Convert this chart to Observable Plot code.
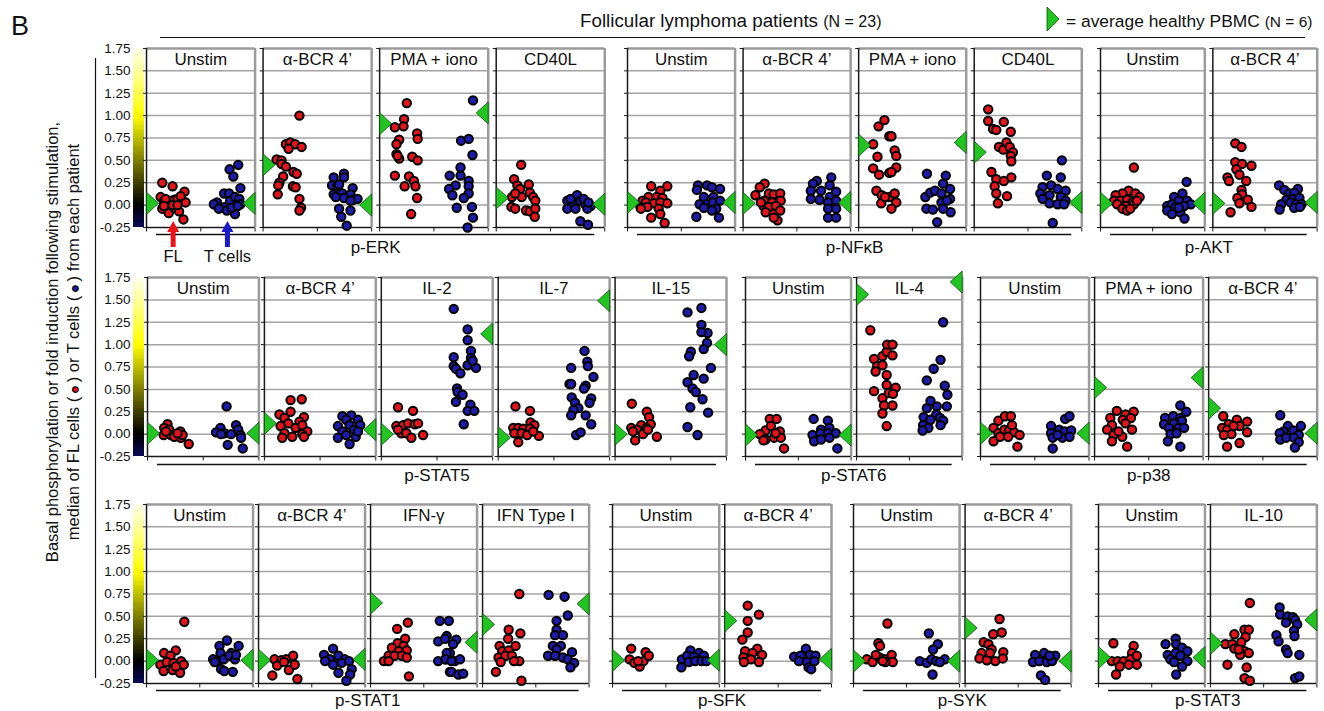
<!DOCTYPE html>
<html><head><meta charset="utf-8">
<script src="https://cdn.jsdelivr.net/npm/d3@7"></script>
<script src="https://cdn.jsdelivr.net/npm/@observablehq/plot@0.6"></script>
<style>
body{margin:0;background:#fff;}
#fig{position:relative;width:1324px;height:711px;overflow:hidden;background:#fff;}
</style></head>
<body><div id="fig"></div>
<script>
// ---------------- DATA ----------------
// x of each point: 0..1 = FL half of a panel, 1..2 = T-cell half; y = value
const row1Labels = ["Unstim","α-BCR 4’","PMA + iono","CD40L","Unstim","α-BCR 4’","PMA + iono","CD40L","Unstim","α-BCR 4’"];
const row1Groups = [["p-ERK",4],["p-NFκB",4],["p-AKT",2]];
const row1HealthyFL = [0.02,0.45,0.91,0.08,0.03,0.02,0.67,0.59,0.02,0.02];
const row1HealthyT  = [0.02,0.00,1.03,0.01,0.03,0.03,0.70,0.03,0.02,0.03];
const row1FL = [
 [[0.29,0.25],[0.48,0.21],[0.26,0.09],[0.32,0.04],[0.41,0.05],[0.51,0.06],[0.57,0.07],[0.66,0.05],[0.72,0.03],[0.70,0.15],[0.63,0.10],[0.29,-0.04],[0.41,-0.09],[0.51,-0.03],[0.60,-0.07],[0.68,-0.16],[0.38,0.01],[0.48,0.00],[0.57,0.00],[0.35,0.07],[0.32,-0.01]],
 [[0.67,1.00],[0.42,0.68],[0.50,0.70],[0.59,0.68],[0.71,0.65],[0.47,0.63],[0.25,0.51],[0.34,0.50],[0.34,0.46],[0.42,0.43],[0.56,0.37],[0.62,0.35],[0.37,0.32],[0.30,0.25],[0.28,0.22],[0.27,0.12],[0.55,0.21],[0.60,0.20],[0.67,0.07],[0.70,-0.03],[0.67,-0.06]],
 [[0.50,1.14],[0.45,0.96],[0.28,0.87],[0.44,0.88],[0.36,0.73],[0.31,0.68],[0.69,0.80],[0.70,0.74],[0.31,0.57],[0.36,0.52],[0.60,0.54],[0.70,0.50],[0.28,0.33],[0.54,0.32],[0.63,0.27],[0.46,0.21],[0.66,0.21],[0.69,0.08],[0.58,-0.10],[0.33,0.55]],
 [[0.46,0.45],[0.33,0.29],[0.39,0.22],[0.44,0.18],[0.60,0.23],[0.62,0.14],[0.29,0.09],[0.47,0.09],[0.68,0.09],[0.72,0.05],[0.28,-0.02],[0.35,-0.04],[0.55,-0.06],[0.62,-0.07],[0.72,-0.04],[0.71,-0.13],[0.35,0.13]],
 [[0.44,0.21],[0.74,0.21],[0.61,0.16],[0.39,0.09],[0.54,0.09],[0.65,0.08],[0.28,0.05],[0.34,0.03],[0.49,0.02],[0.61,0.03],[0.74,0.02],[0.24,-0.02],[0.37,-0.02],[0.58,-0.04],[0.44,-0.14],[0.61,-0.10],[0.69,-0.20],[0.25,-0.04]],
 [[0.40,0.24],[0.31,0.20],[0.23,0.11],[0.48,0.13],[0.57,0.12],[0.69,0.13],[0.39,0.05],[0.54,0.03],[0.70,0.05],[0.38,-0.01],[0.48,-0.02],[0.61,-0.01],[0.42,-0.08],[0.57,-0.10],[0.69,-0.06],[0.64,-0.17],[0.57,-0.14],[0.33,0.03]],
 [[0.48,0.95],[0.37,0.88],[0.27,0.68],[0.57,0.77],[0.35,0.54],[0.27,0.41],[0.38,0.34],[0.57,0.36],[0.33,0.16],[0.43,0.11],[0.42,0.02],[0.57,0.09],[0.61,0.77],[0.67,0.61],[0.70,0.55],[0.70,0.42],[0.61,0.37],[0.67,0.13],[0.70,0.03],[0.61,-0.04],[0.49,0.09]],
 [[0.26,1.07],[0.26,0.94],[0.35,0.85],[0.41,0.84],[0.55,0.93],[0.68,0.82],[0.60,0.70],[0.46,0.65],[0.54,0.62],[0.66,0.65],[0.72,0.59],[0.68,0.55],[0.69,0.49],[0.32,0.37],[0.41,0.29],[0.55,0.27],[0.69,0.31],[0.38,0.21],[0.41,0.13],[0.61,0.10],[0.44,0.02]],
 [[0.64,0.42],[0.54,0.16],[0.42,0.13],[0.29,0.11],[0.67,0.13],[0.75,0.09],[0.26,0.05],[0.38,0.05],[0.51,0.06],[0.61,0.03],[0.32,0.01],[0.48,-0.01],[0.64,0.01],[0.42,-0.04],[0.51,-0.06],[0.57,-0.04],[0.70,0.05]],
 [[0.43,0.69],[0.55,0.65],[0.43,0.48],[0.56,0.46],[0.74,0.44],[0.45,0.40],[0.51,0.34],[0.28,0.31],[0.31,0.27],[0.64,0.27],[0.55,0.17],[0.56,0.12],[0.47,0.08],[0.67,0.06],[0.51,0.02],[0.74,-0.02],[0.34,-0.08]]
];
const row1T = [
 [[1.53,0.40],[1.69,0.45],[1.60,0.32],[1.43,0.13],[1.52,0.13],[1.30,0.03],[1.36,-0.03],[1.45,-0.02],[1.54,0.05],[1.63,0.09],[1.73,0.19],[1.71,0.07],[1.63,-0.10],[1.73,0.01],[1.24,0.01],[1.33,-0.04],[1.48,-0.06],[1.57,-0.03],[1.68,-0.01]],
 [[1.30,0.31],[1.49,0.35],[1.49,0.31],[1.27,0.22],[1.37,0.21],[1.40,0.23],[1.65,0.19],[1.30,0.12],[1.46,0.13],[1.61,0.12],[1.34,0.09],[1.49,0.08],[1.66,0.06],[1.74,0.07],[1.61,0.05],[1.40,-0.04],[1.61,-0.06],[1.44,-0.13],[1.54,-0.23]],
 [[1.72,1.17],[1.50,0.72],[1.64,0.74],[1.71,0.56],[1.29,0.33],[1.49,0.42],[1.49,0.33],[1.40,0.22],[1.28,0.18],[1.34,0.11],[1.64,0.27],[1.64,0.21],[1.64,0.13],[1.55,0.08],[1.42,-0.03],[1.70,-0.02],[1.72,-0.14],[1.62,-0.25]],
 [[1.49,0.11],[1.31,0.05],[1.40,0.03],[1.55,0.05],[1.64,0.01],[1.74,-0.01],[1.31,-0.04],[1.46,-0.04],[1.68,-0.04],[1.55,-0.18],[1.69,-0.22],[1.37,0.07],[1.61,0.07],[1.70,0.03]],
 [[1.31,0.22],[1.48,0.22],[1.57,0.20],[1.72,0.18],[1.29,0.17],[1.42,0.09],[1.60,0.09],[1.34,0.01],[1.48,0.01],[1.59,0.03],[1.72,0.05],[1.42,-0.03],[1.65,-0.04],[1.28,-0.13],[1.70,-0.14],[1.57,-0.06]],
 [[1.37,0.27],[1.64,0.31],[1.30,0.24],[1.45,0.16],[1.61,0.22],[1.26,0.16],[1.73,0.15],[1.26,0.07],[1.42,0.06],[1.61,0.09],[1.58,0.03],[1.73,0.05],[1.58,-0.04],[1.73,-0.04],[1.58,-0.14],[1.73,-0.14]],
 [[1.27,0.35],[1.62,0.33],[1.24,0.09],[1.33,0.14],[1.42,0.16],[1.57,0.24],[1.70,0.18],[1.54,0.13],[1.70,0.07],[1.26,-0.04],[1.38,-0.05],[1.54,0.03],[1.57,-0.04],[1.71,-0.08],[1.46,-0.19],[1.64,0.05]],
 [[1.63,0.50],[1.35,0.33],[1.61,0.31],[1.27,0.20],[1.43,0.22],[1.55,0.18],[1.70,0.16],[1.23,0.13],[1.40,0.11],[1.61,0.09],[1.27,0.07],[1.70,0.05],[1.40,0.02],[1.55,0.01],[1.67,0.01],[1.46,-0.20]],
 [[1.65,0.26],[1.57,0.13],[1.41,0.09],[1.50,0.05],[1.66,0.05],[1.73,0.01],[1.28,-0.01],[1.37,0.01],[1.44,-0.02],[1.60,-0.01],[1.28,-0.06],[1.37,-0.10],[1.53,-0.08],[1.61,-0.15],[1.50,-0.03]],
 [[1.27,0.22],[1.37,0.17],[1.63,0.18],[1.47,0.13],[1.56,0.14],[1.41,0.06],[1.53,0.07],[1.66,0.08],[1.31,0.01],[1.49,0.03],[1.59,0.01],[1.70,0.01],[1.28,-0.05],[1.56,-0.03],[1.67,-0.02]]
];

const row2Labels = ["Unstim","α-BCR 4’","IL-2","IL-7","IL-15","Unstim","IL-4","Unstim","PMA + iono","α-BCR 4’"];
const row2Groups = [["p-STAT5",5],["p-STAT6",2],["p-p38",3]];
const row2HealthyFL = [0.01,0.12,0.00,-0.04,0.00,-0.01,1.56,0.01,0.52,0.29];
const row2HealthyT  = [0.01,0.05,1.12,1.49,1.00,-0.01,1.70,0.01,0.63,0.01];
const row2FL = [
 [[0.36,0.11],[0.30,0.07],[0.39,0.05],[0.29,-0.01],[0.42,-0.01],[0.51,-0.01],[0.59,0.03],[0.60,-0.04],[0.48,-0.03],[0.74,-0.11],[0.63,-0.01],[0.33,0.03],[0.54,0.01]],
 [[0.47,0.38],[0.67,0.39],[0.27,0.22],[0.47,0.25],[0.36,0.18],[0.71,0.19],[0.63,0.14],[0.43,0.12],[0.29,0.09],[0.56,0.07],[0.68,0.10],[0.77,0.03],[0.36,0.01],[0.50,-0.03],[0.68,0.00],[0.32,-0.04],[0.71,-0.03]],
 [[0.30,0.30],[0.57,0.26],[0.27,0.09],[0.39,0.10],[0.48,0.12],[0.60,0.11],[0.66,0.12],[0.36,0.01],[0.45,0.01],[0.54,-0.04],[0.75,-0.01],[0.30,0.05]],
 [[0.31,0.31],[0.57,0.26],[0.58,0.13],[0.65,0.10],[0.27,0.07],[0.36,0.07],[0.45,0.06],[0.57,0.06],[0.29,0.01],[0.42,0.01],[0.52,-0.01],[0.73,-0.02],[0.36,-0.09],[0.63,0.03]],
 [[0.30,0.34],[0.57,0.25],[0.61,0.19],[0.64,0.11],[0.47,0.10],[0.29,0.07],[0.39,0.05],[0.56,0.07],[0.50,0.00],[0.32,0.03],[0.36,-0.07],[0.75,-0.03],[0.59,0.05]],
 [[0.46,0.17],[0.59,0.17],[0.38,0.04],[0.48,0.09],[0.65,0.03],[0.27,0.00],[0.38,-0.06],[0.54,-0.04],[0.67,-0.04],[0.73,-0.16],[0.34,-0.07],[0.57,0.01]],
 [[0.26,1.16],[0.33,0.84],[0.39,0.76],[0.36,0.70],[0.49,0.87],[0.57,0.92],[0.33,0.48],[0.57,0.66],[0.57,0.55],[0.49,0.40],[0.52,0.32],[0.49,0.23],[0.57,0.09],[0.58,1.00],[0.68,1.00],[0.68,0.88],[0.74,0.52],[0.61,0.46],[0.69,0.45],[0.68,0.32],[0.49,0.77]],
 [[0.33,0.15],[0.45,0.20],[0.56,0.20],[0.24,0.07],[0.33,0.01],[0.44,0.05],[0.53,0.04],[0.62,0.02],[0.72,-0.01],[0.24,-0.08],[0.36,-0.03],[0.51,-0.03],[0.68,-0.14],[0.58,0.10]],
 [[0.41,0.26],[0.57,0.22],[0.72,0.25],[0.29,0.18],[0.52,0.16],[0.67,0.18],[0.32,0.10],[0.57,0.12],[0.69,0.05],[0.23,0.05],[0.35,-0.01],[0.51,-0.03],[0.32,-0.08],[0.60,-0.14],[0.44,0.03]],
 [[0.27,0.20],[0.37,0.11],[0.52,0.16],[0.71,0.14],[0.25,0.07],[0.34,0.05],[0.42,0.00],[0.57,0.09],[0.71,0.02],[0.28,-0.01],[0.57,-0.10],[0.34,-0.14],[0.46,0.09]]
];
const row2T = [
 [[1.42,0.31],[1.31,0.07],[1.23,0.02],[1.38,0.01],[1.50,0.00],[1.59,0.10],[1.63,0.05],[1.67,-0.01],[1.68,-0.04],[1.44,-0.12],[1.71,-0.16],[1.32,0.00]],
 [[1.40,0.20],[1.56,0.21],[1.47,0.16],[1.68,0.16],[1.32,0.09],[1.53,0.10],[1.72,0.10],[1.40,0.03],[1.61,0.05],[1.32,-0.04],[1.47,-0.01],[1.64,-0.03],[1.53,-0.11],[1.68,0.03]],
 [[1.30,1.40],[1.55,1.17],[1.55,1.05],[1.61,0.93],[1.61,0.85],[1.55,0.77],[1.70,0.74],[1.30,0.86],[1.30,0.76],[1.34,0.73],[1.42,0.68],[1.36,0.51],[1.37,0.47],[1.46,0.44],[1.34,0.36],[1.60,0.33],[1.55,0.26],[1.67,0.26],[1.48,0.11],[1.64,0.82]],
 [[1.55,0.93],[1.60,0.81],[1.61,0.76],[1.31,0.74],[1.71,0.64],[1.28,0.56],[1.31,0.56],[1.57,0.54],[1.54,0.51],[1.32,0.41],[1.67,0.40],[1.38,0.35],[1.64,0.35],[1.44,0.29],[1.35,0.27],[1.31,0.21],[1.57,0.21],[1.67,0.11],[1.40,-0.01],[1.48,0.02]],
 [[1.55,1.41],[1.30,1.36],[1.55,1.22],[1.66,1.13],[1.55,1.14],[1.65,1.02],[1.59,0.95],[1.36,0.92],[1.33,0.87],[1.72,0.74],[1.41,0.66],[1.59,0.62],[1.30,0.58],[1.39,0.51],[1.45,0.47],[1.57,0.39],[1.35,0.30],[1.67,0.24],[1.30,0.08],[1.48,-0.01]],
 [[1.29,0.17],[1.56,0.15],[1.43,0.05],[1.59,0.07],[1.27,-0.01],[1.42,0.01],[1.56,0.01],[1.71,0.01],[1.30,-0.08],[1.43,-0.06],[1.59,-0.04],[1.74,-0.16]],
 [[1.64,1.25],[1.59,0.83],[1.46,0.73],[1.33,0.60],[1.67,0.54],[1.72,0.44],[1.40,0.37],[1.71,0.31],[1.33,0.29],[1.52,0.31],[1.51,0.22],[1.27,0.19],[1.58,0.18],[1.40,0.16],[1.64,0.15],[1.26,0.10],[1.36,0.07],[1.25,0.04],[1.59,0.10]],
 [[1.56,0.17],[1.64,0.20],[1.30,0.09],[1.30,0.01],[1.45,0.05],[1.55,0.03],[1.67,0.04],[1.33,-0.04],[1.51,-0.04],[1.64,-0.03],[1.33,-0.16],[1.42,-0.01]],
 [[1.58,0.32],[1.69,0.25],[1.30,0.18],[1.45,0.20],[1.58,0.18],[1.28,0.11],[1.46,0.12],[1.61,0.15],[1.37,0.07],[1.55,0.07],[1.65,0.07],[1.40,0.00],[1.51,0.01],[1.35,-0.08],[1.58,-0.14]],
 [[1.32,0.21],[1.46,0.09],[1.70,0.09],[1.38,0.03],[1.56,0.04],[1.31,0.01],[1.66,-0.01],[1.32,-0.06],[1.43,-0.04],[1.57,-0.04],[1.66,-0.09],[1.59,-0.15]]
];

const row3Labels = ["Unstim","α-BCR 4’","IFN-γ","IFN Type I","Unstim","α-BCR 4’","Unstim","α-BCR 4’","Unstim","IL-10"];
const row3Groups = [["p-STAT1",4],["p-SFK",2],["p-SYK",2],["p-STAT3",2]];
const row3HealthyFL = [0.01,0.01,0.65,0.41,0.01,0.45,0.00,0.37,0.04,0.20];
const row3HealthyT  = [0.01,0.02,0.21,0.64,0.01,0.02,0.00,0.00,0.04,0.46];
const row3FL = [
 [[0.71,0.44],[0.33,0.09],[0.55,0.12],[0.45,0.06],[0.65,0.00],[0.26,-0.04],[0.38,-0.01],[0.51,-0.02],[0.70,-0.04],[0.32,-0.11],[0.49,-0.10],[0.63,-0.13],[0.55,-0.06]],
 [[0.30,0.02],[0.43,0.01],[0.52,0.02],[0.65,0.06],[0.35,-0.05],[0.57,-0.10],[0.68,-0.04],[0.48,-0.01],[0.26,-0.16],[0.73,-0.20]],
 [[0.70,0.43],[0.50,0.36],[0.65,0.25],[0.51,0.20],[0.62,0.17],[0.40,0.15],[0.53,0.11],[0.68,0.12],[0.34,0.06],[0.45,0.06],[0.59,0.06],[0.25,0.00],[0.34,0.00],[0.72,-0.17],[0.68,0.04]],
 [[0.69,0.75],[0.49,0.35],[0.71,0.31],[0.48,0.25],[0.32,0.17],[0.62,0.17],[0.37,0.11],[0.49,0.12],[0.30,0.04],[0.43,0.06],[0.55,0.06],[0.69,0.00],[0.34,-0.01],[0.25,-0.12],[0.73,-0.22],[0.59,0.00]],
 [[0.35,0.14],[0.62,0.10],[0.32,0.02],[0.41,-0.02],[0.51,-0.06],[0.58,0.00],[0.68,0.06],[0.48,0.00]],
 [[0.43,0.62],[0.64,0.52],[0.43,0.45],[0.43,0.32],[0.33,0.24],[0.38,0.11],[0.61,0.14],[0.52,0.09],[0.70,0.07],[0.35,0.04],[0.49,0.02],[0.64,-0.01],[0.36,-0.01]],
 [[0.64,0.42],[0.47,0.20],[0.50,0.17],[0.25,0.02],[0.36,-0.01],[0.49,0.04],[0.59,0.02],[0.72,0.07],[0.74,-0.01],[0.60,-0.01],[0.42,0.07],[0.55,0.00]],
 [[0.65,0.47],[0.69,0.32],[0.53,0.30],[0.35,0.21],[0.44,0.19],[0.50,0.13],[0.31,0.09],[0.72,0.10],[0.27,0.03],[0.41,0.01],[0.57,0.00],[0.71,0.03],[0.47,0.09]],
 [[0.28,0.20],[0.66,0.17],[0.63,0.09],[0.25,0.00],[0.36,0.00],[0.47,0.00],[0.60,0.02],[0.72,0.06],[0.57,-0.04],[0.72,-0.04],[0.40,-0.06],[0.33,-0.15]],
 [[0.74,0.65],[0.64,0.35],[0.72,0.35],[0.45,0.30],[0.66,0.27],[0.28,0.19],[0.41,0.19],[0.58,0.21],[0.45,0.14],[0.64,0.11],[0.56,0.07],[0.72,0.09],[0.32,-0.04],[0.68,-0.07],[0.64,-0.19],[0.74,-0.22],[0.53,0.13]]
];
const row3T = [
 [[1.51,0.23],[1.73,0.17],[1.37,0.17],[1.39,0.09],[1.59,0.09],[1.25,0.02],[1.34,0.00],[1.45,0.02],[1.56,0.06],[1.66,0.02],[1.68,0.07],[1.40,-0.09],[1.46,-0.11],[1.62,-0.12],[1.28,-0.01]],
 [[1.23,0.07],[1.40,0.14],[1.34,0.02],[1.50,0.06],[1.62,0.02],[1.25,0.00],[1.40,-0.04],[1.56,-0.02],[1.70,0.00],[1.50,-0.13],[1.75,-0.09],[1.72,-0.15],[1.65,-0.22]],
 [[1.30,0.45],[1.27,0.22],[1.43,0.28],[1.27,0.00],[1.40,0.02],[1.49,0.09],[1.49,-0.12],[1.47,0.45],[1.40,0.25],[1.61,0.24],[1.55,0.19],[1.43,0.09],[1.41,0.02],[1.58,0.00],[1.68,0.02],[1.52,-0.12],[1.65,-0.15],[1.74,-0.14],[1.52,0.00]],
 [[1.24,0.74],[1.54,0.72],[1.60,0.51],[1.39,0.45],[1.39,0.35],[1.36,0.29],[1.51,0.29],[1.32,0.17],[1.47,0.17],[1.39,0.13],[1.23,0.06],[1.36,0.06],[1.51,0.04],[1.68,0.10],[1.60,0.02],[1.72,-0.02],[1.65,-0.07]],
 [[1.46,0.12],[1.62,0.09],[1.30,0.02],[1.40,0.06],[1.52,0.05],[1.71,0.06],[1.29,-0.07],[1.43,-0.01],[1.55,0.00],[1.67,0.00],[1.76,0.00]],
 [[1.52,0.14],[1.30,0.05],[1.42,0.06],[1.60,0.07],[1.70,0.06],[1.39,0.00],[1.54,-0.01],[1.68,0.00],[1.57,-0.07],[1.62,-0.09]],
 [[1.42,0.31],[1.59,0.19],[1.50,0.13],[1.25,0.00],[1.38,-0.02],[1.47,0.02],[1.56,0.00],[1.72,0.02],[1.49,-0.15],[1.63,-0.01]],
 [[1.32,0.07],[1.49,0.09],[1.70,0.06],[1.28,-0.01],[1.40,0.00],[1.54,-0.01],[1.64,0.00],[1.43,-0.16],[1.51,-0.21],[1.59,0.06]],
 [[1.26,0.19],[1.45,0.25],[1.46,0.19],[1.57,0.15],[1.30,0.07],[1.45,0.09],[1.67,0.11],[1.35,0.02],[1.54,0.06],[1.67,0.00],[1.42,-0.01],[1.57,-0.06],[1.46,-0.15]],
 [[1.30,0.60],[1.31,0.52],[1.45,0.50],[1.55,0.49],[1.59,0.46],[1.42,0.43],[1.63,0.41],[1.57,0.34],[1.58,0.28],[1.24,0.29],[1.28,0.22],[1.42,0.13],[1.45,0.09],[1.67,0.07],[1.59,-0.19],[1.67,-0.17]]
];

const yTicks = [-0.25,0,0.25,0.5,0.75,1,1.25,1.5,1.75];

// ---------------- LAYOUT / STYLE ----------------
const FONT = "'Liberation Sans', Arial, Helvetica, sans-serif";
const RED = "#e3141c", BLUE = "#1c1ca8", GREEN = "#22c422";
const FRAME_H = 179, MT = 14, MB = 28;
const ky = FRAME_H / 2;
const rows = [
  {labels: row1Labels, groups: row1Groups, fl: row1FL, t: row1T, hFL: row1HealthyFL, hT: row1HealthyT,
   top: 48, gapPx: 8, spans: [[146,604.3],[626.7,1081],[1100,1316.7]], ul: 7, gl: 20},
  {labels: row2Labels, groups: row2Groups, fl: row2FL, t: row2T, hFL: row2HealthyFL, hT: row2HealthyT,
   top: 277, gapPx: 5.5, spans: [[146.7,725.7],[745,961.7],[980,1316.7]], ul: 8, gl: 19},
  {labels: row3Labels, groups: row3Groups, fl: row3FL, t: row3T, hFL: row3HealthyFL, hT: row3HealthyT,
   top: 504, gapPx: 5.5, spans: [[145.7,588.3],[611.7,830.7],[853.3,1071],[1098.3,1316.7]], ul: 7, gl: 17}
];

const fig = document.getElementById("fig");
function place(node, left, top) {
  node.style.position = "absolute";
  node.style.left = left + "px";
  node.style.top = top + "px";
  fig.appendChild(node);
}
const triRight = {draw(ctx) { ctx.moveTo(0, -11); ctx.lineTo(12, 0); ctx.lineTo(0, 11); ctx.closePath(); }};
const triLeft  = {draw(ctx) { ctx.moveTo(0, -11); ctx.lineTo(-12, 0); ctx.lineTo(0, 11); ctx.closePath(); }};
const plotStyle = {background: "transparent", fontFamily: FONT, overflow: "visible", color: "#111"};

let firstGroupGeom = null;

rows.forEach(row => {
  // colour bar + y axis
  const stops = d3.range(100).map(i => -0.25 + i * 0.02);
  const axisPlot = Plot.plot({
    width: 146, height: MT + FRAME_H + MB,
    marginLeft: 133, marginRight: 2, marginTop: MT, marginBottom: MB,
    x: {domain: [0, 1], axis: null},
    y: {domain: [-0.25, 1.75]},
    color: {type: "linear", domain: [-0.25, 0, 1, 1.75], range: ["#0a0a58", "#000000", "#ffff00", "#ffffee"], interpolate: "rgb"},
    style: plotStyle,
    marks: [
      Plot.rect(stops, {x1: () => 0, x2: () => 1, y1: d => d, y2: d => Math.min(1.75, d + 0.04), fill: d => d + 0.01, shapeRendering: "crispEdges"}),
      Plot.axisY({ticks: yTicks, tickSize: 0, tickPadding: 3, tickFormat: d => d.toFixed(2), fontSize: 13.5, label: null, anchor: "left"})
    ]
  });
  place(axisPlot, 0, row.top - MT);

  let start = 0;
  row.groups.forEach(([name, n], gi) => {
    const [gL, gR] = row.spans[gi];
    const mL = 6, mR = 4;
    const kx = (gR - gL - (n - 1) * row.gapPx) / (2 * n);
    const gu = row.gapPx / kx;
    const total = 2 * n + (n - 1) * gu;
    const panels = d3.range(n).map(k => ({
      i: start + k, off: k * (2 + gu), label: row.labels[start + k],
      hFL: row.hFL[start + k], hT: row.hT[start + k]
    }));
    const fl = panels.flatMap(p => row.fl[p.i].map(([x, y]) => ({x: p.off + x, y})));
    const tc = panels.flatMap(p => row.t[p.i].map(([x, y]) => ({x: p.off + x, y})));
    const grid = panels.flatMap(p => [0, 0.25, 0.5, 0.75, 1, 1.25, 1.5].map(v => ({off: p.off, v})));
    const lticks = panels.flatMap(p => yTicks.map(v => ({off: p.off, v})));
    const bticks = panels.flatMap(p => [0, 1, 2].map(u => ({x: p.off + u})));
    const span = [{name, mid: total / 2}];
    if (!firstGroupGeom) firstGroupGeom = {left: gL, kx};

    const plot = Plot.plot({
      width: gR - gL + mL + mR, height: MT + FRAME_H + MB,
      marginLeft: mL, marginRight: mR, marginTop: MT, marginBottom: MB,
      x: {domain: [0, total], axis: null},
      y: {domain: [-0.25, 1.75], axis: null},
      style: plotStyle,
      marks: [
        Plot.ruleY(grid, {x1: d => d.off, x2: d => d.off + 2, y: "v", stroke: "#a4a4a4", strokeWidth: 1.5}),
        Plot.ruleY(panels, {x1: d => d.off, x2: d => d.off + 2, y: () => 1.75, stroke: "#9b9b9b", strokeWidth: 2.5}),
        Plot.ruleX(panels, {x: d => d.off + 2, y1: () => -0.25, y2: () => 1.75, stroke: "#9b9b9b", strokeWidth: 2.5}),
        Plot.ruleX(panels, {x: d => d.off, y1: () => -0.25, y2: () => 1.75, stroke: "#1a1a1a", strokeWidth: 1.5}),
        Plot.ruleY(panels, {x1: d => d.off, x2: d => d.off + 2, y: () => -0.25, stroke: "#1a1a1a", strokeWidth: 1.5}),
        Plot.link(lticks, {x1: d => d.off - 3.5 / kx, x2: d => d.off, y1: "v", y2: "v", stroke: "#1a1a1a", strokeWidth: 1}),
        Plot.link(bticks, {x1: "x", x2: "x", y1: () => -0.25, y2: () => -0.25 - 4 / ky, stroke: "#1a1a1a", strokeWidth: 1}),
        Plot.text(panels, {x: d => d.off + 1, y: () => 1.625, text: "label", fontSize: 17, fill: "#111"}),
        Plot.dot(fl, {x: "x", y: "y", r: 4.2, fill: RED, stroke: "#000", strokeWidth: 2}),
        Plot.dot(tc, {x: "x", y: "y", r: 4.2, fill: BLUE, stroke: "#000", strokeWidth: 2}),
        Plot.dot(panels, {x: d => d.off, y: "hFL", symbol: triRight, fill: GREEN, stroke: "#0e4f0e", strokeWidth: 0.8}),
        Plot.dot(panels, {x: d => d.off + 2, y: "hT", symbol: triLeft, fill: GREEN, stroke: "#0e4f0e", strokeWidth: 0.8}),
        Plot.ruleY(span, {x1: () => 0, x2: () => total, y: () => -0.25, dy: row.ul, insetLeft: 10, insetRight: 10, stroke: "#111", strokeWidth: 1.3}),
        Plot.text(span, {x: "mid", y: () => -0.25, dy: row.gl, text: "name", fontSize: 17, fill: "#111"})
      ]
    });
    place(plot, gL - mL, row.top - MT);
    start += n;
  });
});

// ---------------- ANNOTATIONS ----------------
const svg = d3.select(fig).append("svg")
  .attr("width", 1324).attr("height", 711)
  .style("position", "absolute").style("left", "0px").style("top", "0px")
  .style("font-family", FONT).style("overflow", "visible");

svg.append("text").attr("x", 11).attr("y", 35).attr("font-size", 27).attr("fill", "#111").text("B");

const title = svg.append("text").attr("x", 580).attr("y", 27).attr("font-size", 18.8).attr("fill", "#111");
title.append("tspan").text("Follicular lymphoma patients ");
title.append("tspan").attr("font-size", 16).text("(N = 23)");
svg.append("line").attr("x1", 160).attr("x2", 1305).attr("y1", 37.5).attr("y2", 37.5).attr("stroke", "#111").attr("stroke-width", 1.2);

svg.append("path").attr("d", "M1047,7 L1059,19 L1047,31 Z").attr("fill", GREEN).attr("stroke", "#0e4f0e").attr("stroke-width", 0.8);
const leg = svg.append("text").attr("x", 1066).attr("y", 27).attr("font-size", 17.4).attr("fill", "#111");
leg.append("tspan").text("= average healthy PBMC ");
leg.append("tspan").attr("font-size", 15.5).text("(N = 6)");

// y title
svg.append("text").attr("transform", "translate(52,342) rotate(-90)")
  .attr("text-anchor", "middle").attr("dy", "0.35em").attr("font-size", 16.5).attr("fill", "#111")
  .text("Basal phosphorylation or fold induction following stimulation,");
const yt2 = svg.append("text").attr("transform", "translate(73,342) rotate(-90)")
  .attr("text-anchor", "middle").attr("dy", "0.35em").attr("font-size", 16.5).attr("fill", "#111");
yt2.append("tspan").text("median of FL cells (\u2009");
yt2.append("tspan").attr("fill", RED).attr("stroke", "#000").attr("stroke-width", 1.2).attr("font-size", 13).text("●");
yt2.append("tspan").text("\u2009) or T cells (\u2009");
yt2.append("tspan").attr("fill", BLUE).attr("stroke", "#000").attr("stroke-width", 1.2).attr("font-size", 13).text("●");
yt2.append("tspan").text("\u2009) from each patient");
svg.append("line").attr("x1", 95.5).attr("x2", 95.5).attr("y1", 58).attr("y2", 678).attr("stroke", "#111").attr("stroke-width", 1.2);

// FL / T cells arrows under first panel
const fx = firstGroupGeom.left + 0.5 * firstGroupGeom.kx;
const tx = firstGroupGeom.left + 1.5 * firstGroupGeom.kx;
function arrow(x, color) {
  svg.append("path")
    .attr("d", `M${x},221 L${x + 6},232 L${x + 2.5},232 L${x + 2.5},247 L${x - 2.5},247 L${x - 2.5},232 L${x - 6},232 Z`)
    .attr("fill", color);
}
arrow(fx, "#e8141a");
arrow(tx, "#1a1ac8");
svg.append("text").attr("x", fx).attr("y", 262).attr("text-anchor", "middle").attr("font-size", 16.5).attr("fill", "#111").text("FL");
svg.append("text").attr("x", tx).attr("y", 262).attr("text-anchor", "middle").attr("font-size", 16.5).attr("fill", "#111").text("T cells");
</script>
</body></html>
